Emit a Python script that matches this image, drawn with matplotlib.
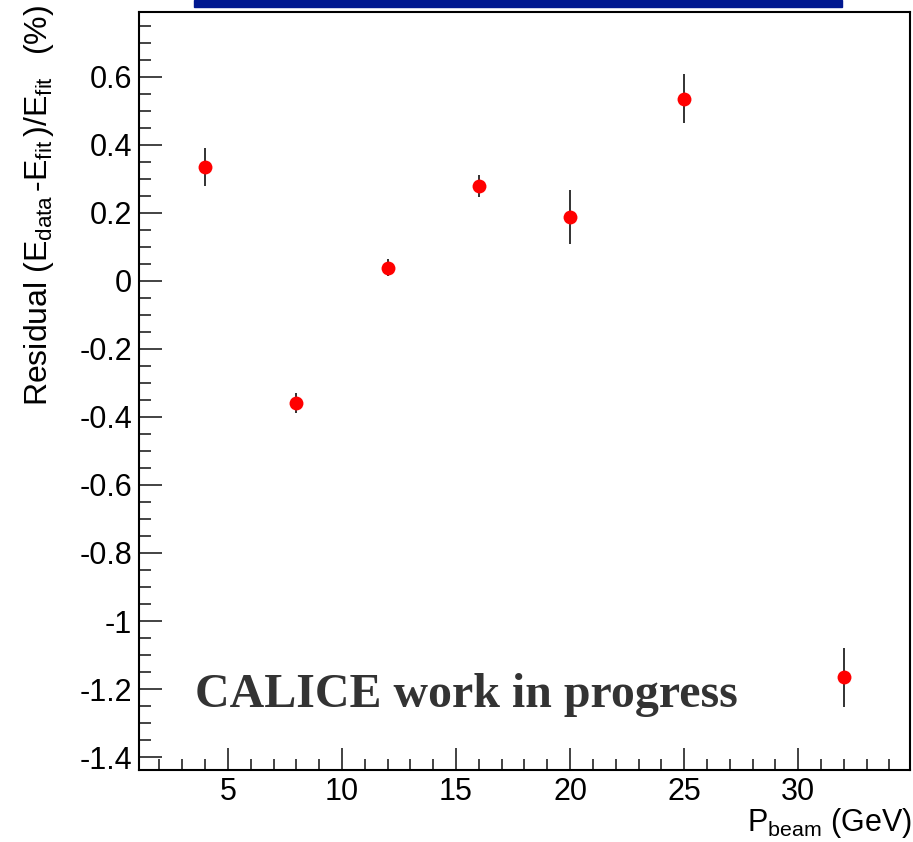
import numpy as np
import matplotlib.pyplot as plt
from matplotlib.patches import Rectangle
from matplotlib.ticker import MultipleLocator

# beam momentum points and residuals (in %)
p_beam = [4, 8, 12, 16, 20, 25, 32]
residual = [0.335, -0.359, 0.038, 0.279, 0.188, 0.535, -1.165]
residual_err = [0.055, 0.030, 0.025, 0.032, 0.080, 0.072, 0.087]

x_ticks = [5, 10, 15, 20, 25, 30]
y_ticks = [0.6, 0.4, 0.2, 0, -0.2, -0.4, -0.6, -0.8, -1, -1.2, -1.4]

plt.rcParams['font.family'] = ['Liberation Sans', 'DejaVu Sans']
plt.rcParams['mathtext.fontset'] = 'custom'
plt.rcParams['mathtext.rm'] = 'Liberation Sans'
plt.rcParams['mathtext.it'] = 'Liberation Sans'

fig = plt.figure(figsize=(9.13, 8.42), dpi=100)
ax = fig.add_axes([0.1522, 0.0855, 0.8445, 0.9002])

# blue title box cut off at the top
fig.patches.append(Rectangle((194 / 913, 1 - 7 / 842), 648 / 913, 7 / 842,
                             transform=fig.transFigure, color='#001890', zorder=5))

ax.errorbar(p_beam, residual, yerr=residual_err, fmt='o', color='red',
            markersize=10, ecolor='#222222', elinewidth=1.3, capsize=3,
            capthick=1.3, markeredgewidth=0)

ax.set_xlim(1.1, 34.9)
ax.set_ylim(-1.438, 0.79)

ax.set_xticks(x_ticks)
ax.set_yticks(y_ticks)
ax.set_yticklabels([('%g' % v) for v in y_ticks])
ax.xaxis.set_minor_locator(MultipleLocator(1))
ax.yaxis.set_minor_locator(MultipleLocator(0.05))

ax.tick_params(which='both', direction='in', top=False, right=False,
               labelsize=22, width=1.2, color='#222222')
ax.tick_params(axis='x', which='major', length=16, pad=5)
ax.tick_params(axis='x', which='minor', length=8)
ax.tick_params(axis='y', which='major', length=16.5, pad=5)
ax.tick_params(axis='y', which='minor', length=8.5)

for s in ax.spines.values():
    s.set_linewidth(1.5)

ax.set_xlabel(r'P$_{\mathregular{beam}}$ (GeV)', fontsize=22, loc='right')
ax.xaxis.set_label_coords(1.002, -0.048)
ax.set_ylabel(r'Residual (E$_{\mathregular{data}}\,$-E$_{\mathregular{fit}}\,$)/E$_{\mathregular{fit}}\enspace$ (%)',
              fontsize=23, loc='top')
ax.yaxis.set_label_coords(-0.108, 1.009)

ax.text(0.0726, 0.099, 'CALICE work in progress', transform=ax.transAxes,
        fontsize=34.5, fontweight='bold', family='Liberation Serif',
        color='#333333', va='center', ha='left')

fig.savefig('out.png', dpi=100)
